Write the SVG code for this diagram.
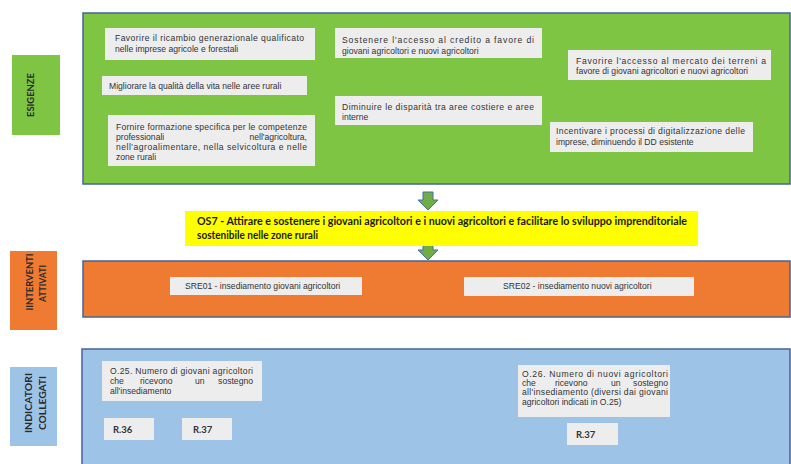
<svg xmlns="http://www.w3.org/2000/svg" width="791" height="464" viewBox="0 0 791 464">
<style>
.panel{stroke:#46639a;stroke-width:1.5}
.green{fill:#7ec544}
.orange{fill:#ee7b31}
.blue{fill:#9dc3e6}
.box{fill:#ededed}
.t{font-family:"Liberation Sans",Arial,sans-serif;font-size:8.6px;fill:#333}
.lbl{font-family:Lato,"Liberation Sans",sans-serif;font-size:10px;font-weight:bold;fill:#2a2a2a;text-anchor:middle}
.os{font-family:Lato,"Liberation Sans",sans-serif;font-size:10.5px;font-weight:bold;fill:#1a1a1a}
.r{font-family:Lato,"Liberation Sans",sans-serif;font-size:9.5px;font-weight:bold;fill:#333}
.arrow{fill:#70ad47;stroke:#41719c;stroke-width:1}
</style>
<rect width="791" height="464" fill="#ffffff"/>

<g id="esigenze">
  <rect class="green" x="12" y="55" width="48" height="80"/>
  <text class="lbl" transform="translate(34,95) rotate(-90)" textLength="44" lengthAdjust="spacingAndGlyphs">ESIGENZE</text>
  <rect class="panel green" x="83" y="13" width="707" height="171"/>
</g>

<g id="esigenza1">
  <rect class="box" x="105" y="28" width="210" height="32"/>
  <text class="t" x="115" y="41" textLength="189" lengthAdjust="spacing">Favorire il ricambio generazionale qualificato</text>
  <text class="t" x="115" y="51.5">nelle imprese agricole e forestali</text>
</g>
<g id="esigenza2">
  <rect class="box" x="102" y="76" width="205" height="19"/>
  <text class="t" x="109" y="88.5">Migliorare la qualità della vita nelle aree rurali</text>
</g>
<g id="esigenza3">
  <rect class="box" x="108" y="115" width="207" height="51"/>
  <text class="t" x="116" y="129.5" textLength="191" lengthAdjust="spacing">Fornire formazione specifica per le competenze</text>
  <text class="t" x="116" y="139.5">professionali</text>
  <text class="t" x="307" y="139.5" text-anchor="end">nell'agricoltura,</text>
  <text class="t" x="116" y="149.5" textLength="191" lengthAdjust="spacing">nell'agroalimentare, nella selvicoltura e nelle</text>
  <text class="t" x="116" y="159.5">zone rurali</text>
</g>
<g id="esigenza4">
  <rect class="box" x="335" y="28" width="207" height="30"/>
  <text class="t" x="342" y="43" textLength="192" lengthAdjust="spacing">Sostenere l'accesso al credito a favore di</text>
  <text class="t" x="342" y="53.5">giovani agricoltori e nuovi agricoltori</text>
</g>
<g id="esigenza5">
  <rect class="box" x="335" y="96" width="207" height="29"/>
  <text class="t" x="342" y="109.5" textLength="192" lengthAdjust="spacing">Diminuire le disparità tra aree costiere e aree</text>
  <text class="t" x="342" y="120">interne</text>
</g>
<g id="esigenza6">
  <rect class="box" x="568" y="50" width="203" height="30"/>
  <text class="t" x="576" y="64" textLength="190" lengthAdjust="spacing">Favorire l'accesso al mercato dei terreni a</text>
  <text class="t" x="576" y="74">favore di giovani agricoltori e nuovi agricoltori</text>
</g>
<g id="esigenza7">
  <rect class="box" x="550" y="122" width="203" height="30"/>
  <text class="t" x="556" y="134" textLength="189" lengthAdjust="spacing">Incentivare i processi di digitalizzazione delle</text>
  <text class="t" x="556" y="144.5">imprese, diminuendo il DD esistente</text>
</g>

<g id="connectors">
  <polygon class="arrow" points="423,192 433,192 433,200 438,200 428,210 418,200 423,200"/>
  <polygon class="arrow" points="423,242 433,242 433,250 438,250 428,260 418,250 423,250"/>
</g>

<g id="os7">
  <rect x="185" y="211" width="513" height="35" fill="#ffff00"/>
  <text class="os" x="197" y="225" textLength="490" lengthAdjust="spacingAndGlyphs">OS7 - Attirare e sostenere i giovani agricoltori e i nuovi agricoltori e facilitare lo sviluppo imprenditoriale</text>
  <text class="os" x="197" y="239" textLength="121" lengthAdjust="spacingAndGlyphs">sostenibile nelle zone rurali</text>
</g>

<g id="interventi">
  <rect class="orange" x="10" y="251" width="47" height="79"/>
  <text class="lbl" transform="translate(32.5,282) rotate(-90)" textLength="57" lengthAdjust="spacingAndGlyphs">IINTERVENTI</text>
  <text class="lbl" transform="translate(45.5,283.5) rotate(-90)" textLength="37" lengthAdjust="spacingAndGlyphs">ATTIVATI</text>
  <rect class="panel orange" x="83" y="261" width="707" height="56"/>
</g>
<g id="sre01">
  <rect class="box" x="170" y="277" width="192" height="18"/>
  <text class="t" x="185" y="288.5">SRE01 - insediamento giovani agricoltori</text>
</g>
<g id="sre02">
  <rect class="box" x="464" y="277" width="230" height="19"/>
  <text class="t" x="503" y="289">SRE02 - insediamento nuovi agricoltori</text>
</g>

<g id="indicatori">
  <rect class="blue" x="10" y="367" width="47" height="79"/>
  <text class="lbl" transform="translate(31.5,403) rotate(-90)" textLength="60" lengthAdjust="spacingAndGlyphs">INDICATORI</text>
  <text class="lbl" transform="translate(45.5,403) rotate(-90)" textLength="54" lengthAdjust="spacingAndGlyphs">COLLEGATI</text>
  <rect class="panel blue" x="82" y="349" width="708" height="120"/>
</g>
<g id="o25">
  <rect class="box" x="102" y="361" width="160" height="40"/>
  <text class="t" x="110" y="374" textLength="143" lengthAdjust="spacing">O.25. Numero di giovani agricoltori</text>
  <text class="t" x="110" y="384">che</text>
  <text class="t" x="140" y="384">ricevono</text>
  <text class="t" x="195" y="384">un</text>
  <text class="t" x="253" y="384" text-anchor="end">sostegno</text>
  <text class="t" x="110" y="394">all'insediamento</text>
</g>
<g id="r36">
  <rect class="box" x="104" y="418" width="50" height="22"/>
  <text class="r" x="113" y="432.5">R.36</text>
</g>
<g id="r37a">
  <rect class="box" x="182" y="418" width="50" height="22"/>
  <text class="r" x="193" y="432.5">R.37</text>
</g>
<g id="o26">
  <rect class="box" x="518" y="365" width="152" height="52"/>
  <text class="t" x="522" y="376.5" textLength="146" lengthAdjust="spacing">O.26. Numero di nuovi agricoltori</text>
  <text class="t" x="522" y="385.5">che</text>
  <text class="t" x="555" y="385.5">ricevono</text>
  <text class="t" x="611" y="385.5">un</text>
  <text class="t" x="668" y="385.5" text-anchor="end">sostegno</text>
  <text class="t" x="522" y="395" textLength="146" lengthAdjust="spacing">all'insediamento (diversi dai giovani</text>
  <text class="t" x="522" y="404.5">agricoltori indicati in O.25)</text>
</g>
<g id="r37b">
  <rect class="box" x="567" y="423" width="51" height="22"/>
  <text class="r" x="576" y="437.5">R.37</text>
</g>
</svg>
